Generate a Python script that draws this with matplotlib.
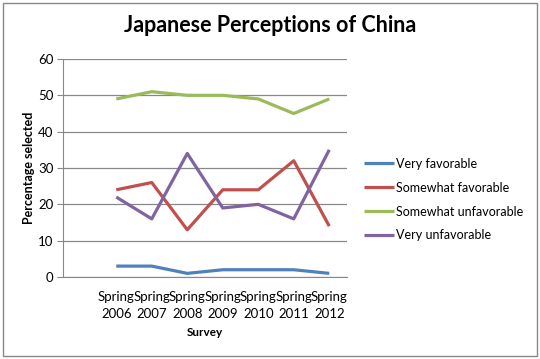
import matplotlib.pyplot as plt
from matplotlib.patches import Rectangle

plt.rcParams['font.family'] = ['Lato', 'DejaVu Sans']

surveys = ["", "Spring\n2006", "Spring\n2007", "Spring\n2008", "Spring\n2009",
           "Spring\n2010", "Spring\n2011", "Spring\n2012"]
very_fav = [3, 3, 1, 2, 2, 2, 1]
somewhat_fav = [24, 26, 13, 24, 24, 32, 14]
somewhat_unfav = [49, 51, 50, 50, 49, 45, 49]
very_unfav = [22, 16, 34, 19, 20, 16, 35]

series = [
    ("Very favorable", very_fav, "#4F81BD"),
    ("Somewhat favorable", somewhat_fav, "#C0504D"),
    ("Somewhat unfavorable", somewhat_unfav, "#9BBB59"),
    ("Very unfavorable", very_unfav, "#8064A2"),
]

fig = plt.figure(figsize=(5.4, 3.59), dpi=100)
fig.patches.append(Rectangle((0.006, 0.008), 0.988, 0.984, transform=fig.transFigure,
                             fill=False, edgecolor="#888888", linewidth=1))
ax = fig.add_axes([0.1167, 0.2284, 0.5259, 0.6073])

x = list(range(1, len(surveys)))
for name, vals, col in series:
    ax.plot(x, vals, color=col, linewidth=2.3, label=name, solid_capstyle="butt")

ax.set_xlim(-0.5, len(surveys) - 0.5)
ax.set_ylim(0, 60)
ax.set_yticks(range(0, 61, 10))
ax.set_xticks(range(len(surveys)))
ax.set_xticklabels(surveys, fontsize=9.5, linespacing=1.5)
ax.tick_params(axis="y", labelsize=9.5, length=4, color="#888888", pad=3)
ax.tick_params(axis="x", length=0, pad=10)
ax.grid(axis="y", color="#888888", linewidth=0.9)
ax.set_axisbelow(True)
for s in ["top", "right"]:
    ax.spines[s].set_visible(False)
for s in ["left", "bottom"]:
    ax.spines[s].set_color("#888888")

ax.set_ylabel("Percentage selected", fontsize=9, fontweight="bold", labelpad=2)
ax.set_xlabel("Survey", fontsize=8.5, fontweight="bold", labelpad=5)
fig.suptitle("Japanese Perceptions of China", fontsize=15.5, fontweight="bold",
             x=0.5, y=0.93, va="center")

ax.legend(loc="center left", bbox_to_anchor=(1.02, 0.355), frameon=False,
          fontsize=9, handlelength=2.4, handletextpad=0.2, labelspacing=0.95)

fig.savefig("out.png", dpi=100)
